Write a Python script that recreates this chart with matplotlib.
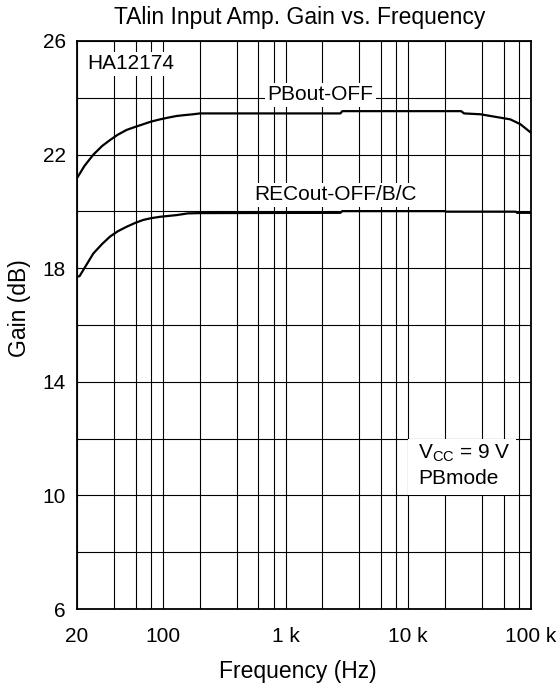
import matplotlib
matplotlib.use("Agg")
import matplotlib.pyplot as plt
from matplotlib.patches import Rectangle

plt.rcParams["font.family"] = ["Liberation Sans", "DejaVu Sans"]
plt.rcParams["mathtext.fontset"] = "custom"
plt.rcParams["mathtext.rm"] = "Liberation Sans"
plt.rcParams["mathtext.it"] = "Liberation Sans:italic"

# ---- data ----
pb_freq = [20, 23, 27.2, 32, 37.1, 43, 50.8, 60, 69.4, 80, 94.9, 110, 129.8, 150, 177, 201,
           2800, 2900, 27000, 28500, 38600, 46700, 56300, 67900, 81900, 100000]
pb_gain = [21.17, 21.6, 22.0, 22.3, 22.51, 22.7, 22.87, 22.98, 23.07, 23.16, 23.24, 23.3, 23.36, 23.39, 23.42, 23.45,
           23.45, 23.53, 23.53, 23.45, 23.42, 23.36, 23.3, 23.24, 23.07, 22.77]

rec_freq = [20, 21, 23.2, 27.2, 32, 37.1, 43, 50.8, 60, 69.4, 80, 94.9, 129.8, 160, 200,
            2800, 2900, 19900, 20500, 75000, 77000, 100000]
rec_gain = [17.7, 17.72, 18.03, 18.52, 18.85, 19.11, 19.3, 19.46, 19.6, 19.7, 19.76, 19.81, 19.87, 19.93, 19.94,
            19.95, 20.01, 20.01, 19.99, 19.99, 19.95, 19.95]

major_freqs = [20, 100, 1000, 10000, 100000]
major_labels = ["20", "100", "1 k", "10 k", "100 k"]
grid_freqs = [40, 60, 80, 200, 400, 600, 800, 2000, 4000, 6000, 8000,
              20000, 40000, 60000, 80000]
gain_ticks = [6, 10, 14, 18, 22, 26]
gain_minor = [8, 12, 16, 20, 24]

fig = plt.figure(figsize=(5.59, 6.89), dpi=100)
ax = fig.add_axes([0.1377, 0.1161, 0.8122, 0.8244])

ax.set_xscale("log")
ax.set_xlim(20, 100000)
ax.set_ylim(6, 26)
ax.set_xticks(major_freqs)
ax.set_xticklabels(major_labels)
ax.set_xticks(grid_freqs, minor=True)
ax.set_xticklabels([], minor=True)
ax.set_yticks(gain_ticks)
ax.set_yticks(gain_minor, minor=True)
ax.tick_params(which="both", length=0, labelsize=15)
ax.tick_params(axis="x", pad=13)
ax.tick_params(axis="y", pad=8)
ax.grid(which="both", color="black", linewidth=0.8, zorder=1)
ax.set_axisbelow(True)
for s in ax.spines.values():
    s.set_linewidth(1.3)

ax.plot(pb_freq, pb_gain, color="black", linewidth=1.6, zorder=3)
ax.plot(rec_freq, rec_gain, color="black", linewidth=1.6, zorder=3)

box = dict(facecolor="white", edgecolor="none", pad=1.5)
ax.text(1928, 24.1, "PBout-OFF", fontsize=15, ha="center", va="center", bbox=box, zorder=4)
ax.text(2571, 20.58, "RECout-OFF/B/C", fontsize=15, ha="center", va="center", bbox=box, zorder=4)
ax.text(24.3, 25.19, "HA12174", fontsize=15, ha="left", va="center", bbox=box, zorder=4)

ax.add_patch(Rectangle((10000, 10), 65000, 2, facecolor="white", edgecolor="none", zorder=2))
ax.text(12080, 11.49, r"$\mathrm{V_{CC}}$ = 9 V", fontsize=15, ha="left", va="center", zorder=4)
ax.text(12080, 10.58, "PBmode", fontsize=15, ha="left", va="center", zorder=4)

ax.set_title("TAlin Input Amp. Gain vs. Frequency", fontsize=16.5, x=0.49, pad=12)
ax.set_xlabel("Frequency (Hz)", fontsize=16.5)
ax.set_ylabel("Gain (dB)", fontsize=16.5)
ax.xaxis.set_label_coords(0.487, -0.09)
ax.yaxis.set_label_coords(-0.102, 0.53)

fig.savefig("out.png", dpi=100)
